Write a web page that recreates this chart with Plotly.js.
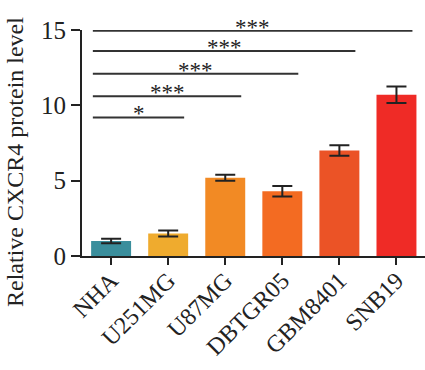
<!DOCTYPE html>
<html><head><meta charset="utf-8">
<script src="https://cdn.plot.ly/plotly-3.0.1.min.js"></script>
<style>body{margin:0;padding:0;background:#fff}#chart{width:425px;height:370px}</style>
</head><body><div id="chart"></div>
<script>
const categories = ["NHA","U251MG","U87MG","DBTGR05","GBM8401","SNB19"];
const means = [1.0, 1.5, 5.2, 4.3, 7.0, 10.7];
const errors = [0.15, 0.2, 0.2, 0.35, 0.35, 0.55];
const colors = ["#3a8e9c","#efab2e","#f28a24","#f36b22","#eb5326","#ef2b26"];
const sigLevels = [9.2, 10.6, 12.1, 13.6, 14.95];
const sigEnds = [1, 2, 3, 4, 5];
const sigLabels = ["*","***","***","***","***"];
const yTitle = "Relative CXCR4 protein level";

const trace = {
  type:"bar", x:categories, y:means,
  marker:{color:colors},
  error_y:{type:"data", array:errors, visible:true, color:"#222", thickness:2, width:10},
  width:0.7, hoverinfo:"none"
};
const shapes = [], annotations = [];
sigLevels.forEach((lv,i)=>{
  shapes.push({type:"line", xref:"x", yref:"y", x0:-0.32, x1:sigEnds[i]+0.28, y0:lv, y1:lv,
    line:{color:"#333", width:2}});
  annotations.push({xref:"x", yref:"y", x:(-0.32+sigEnds[i]+0.28)/2, y:lv, text:sigLabels[i],
    showarrow:false, yanchor:"bottom", yshift:-11,
    font:{family:"Liberation Serif, serif", size:23, color:"#222"}});
});
annotations.push({xref:"paper", yref:"paper", x:(15-82)/343, y:(256-162)/226, text:yTitle,
  textangle:-90, showarrow:false, xanchor:"center", yanchor:"middle",
  font:{family:"Liberation Serif, serif", size:24, color:"#222"}});
const layout = {
  width:425, height:370,
  margin:{l:82, r:0, t:30, b:114},
  paper_bgcolor:"#fff", plot_bgcolor:"#fff",
  showlegend:false,
  font:{family:"Liberation Serif, serif", color:"#222"},
  xaxis:{type:"category", range:[-0.51,5.5], showline:true, linecolor:"#222", linewidth:2,
    ticks:"outside", ticklen:7, tickwidth:2, tickcolor:"#222", tickangle:-45, ticklabelstandoff:-8,
    tickfont:{size:24, family:"Liberation Serif, serif", color:"#222"}, showgrid:false, zeroline:false,
    automargin:false},
  yaxis:{range:[0,15], tickvals:[0,5,10,15], showline:true, linecolor:"#222", linewidth:2,
    ticks:"outside", ticklen:9, tickwidth:2, tickcolor:"#222",
    tickfont:{size:25, family:"Liberation Serif, serif", color:"#222"}, showgrid:false, zeroline:false,
    automargin:false},
  shapes:shapes, annotations:annotations
};
Plotly.newPlot("chart",[trace],layout,{staticPlot:true, displayModeBar:false});
</script></body></html>
